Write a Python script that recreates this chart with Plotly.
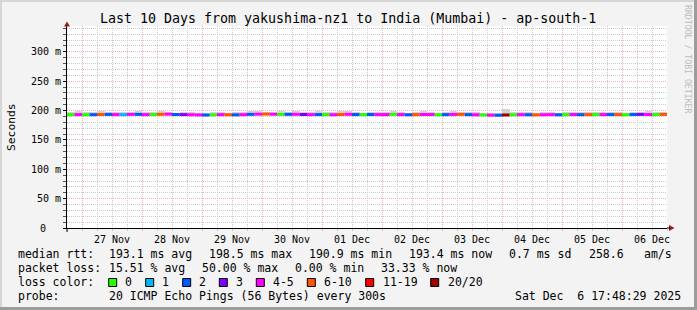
import plotly.graph_objects as go
import pandas as pd

# ---------------- data ----------------
TITLE = "Last 10 Days from yakushima-nz1 to India (Mumbai) - ap-south-1"
START = "2025-11-26 18:00"
END = "2025-12-06 18:00"
STEP_HOURS = 3

median_ms = [
    193.0, 193.1, 192.9, 193.0, 193.3, 193.4, 193.1, 193.0,
    193.4, 193.5, 193.1, 193.2, 193.6, 193.8, 193.3, 193.1,
    192.9, 192.6, 192.4, 192.7, 193.0, 192.9, 192.7, 193.0,
    193.5, 193.8, 194.0, 193.7, 193.4, 193.5, 193.6, 193.3,
    193.0, 193.2, 193.1, 192.9, 193.3, 193.6, 193.2, 193.0,
    193.3, 193.1, 193.2, 193.5, 193.1, 192.9, 193.1, 193.3,
    193.2, 192.9, 193.1, 193.4, 193.5, 193.1, 192.8, 192.5,
    192.2, 192.0, 192.5, 192.8, 193.0, 192.9, 192.7, 192.9,
    193.1, 192.9, 193.0, 193.2, 193.0, 193.1, 193.3, 193.1,
    193.2, 193.1, 192.9, 193.2, 193.4, 193.2, 193.1, 193.4,
]
loss_cat = [
    0, 4, 0, 2, 5, 2, 4, 1,
    4, 2, 4, 0, 5, 4, 2, 3,
    4, 4, 2, 0, 4, 5, 2, 4,
    2, 4, 5, 4, 0, 2, 4, 3,
    4, 2, 0, 4, 5, 4, 2, 0,
    2, 4, 4, 0, 4, 2, 5, 4,
    4, 0, 2, 4, 5, 2, 4, 0,
    4, 2, 7, 0, 4, 2, 5, 4,
    4, 2, 0, 4, 2, 5, 0, 4,
    2, 5, 0, 2, 3, 4, 0, 5,
]
smoke_hi = [
    197, 199, 198, 197, 200, 198, 197, 198,
    198, 199, 197, 198, 200, 198, 196, 197,
    197, 196, 196, 197, 198, 196, 197, 197,
    199, 200, 198, 198, 199, 198, 199, 197,
    197, 199, 197, 197, 199, 200, 197, 196,
    198, 197, 197, 199, 197, 196, 198, 199,
    198, 196, 198, 200, 198, 197, 197, 196,
    196, 195, 203, 197, 198, 197, 196, 197,
    197, 196, 197, 198, 197, 197, 198, 197,
    197, 198, 196, 198, 197, 199, 198, 198,
]
smoke_lo = [
    191.5, 191.8, 191.6, 191.7, 191.9, 192.0, 191.8, 191.6,
    192.0, 192.1, 191.8, 191.9, 192.2, 192.3, 191.9, 191.8,
    191.6, 191.3, 191.1, 191.4, 191.7, 191.6, 191.4, 191.7,
    192.1, 192.3, 192.5, 192.3, 192.0, 192.1, 192.2, 191.9,
    191.7, 191.9, 191.8, 191.6, 191.9, 192.2, 191.9, 191.7,
    191.9, 191.8, 191.9, 192.1, 191.8, 191.6, 191.8, 192.0,
    191.9, 191.6, 191.8, 192.0, 192.1, 191.8, 191.5, 191.2,
    190.9, 190.9, 191.2, 191.5, 191.7, 191.6, 191.4, 191.6,
    191.8, 191.6, 191.7, 191.9, 191.7, 191.8, 192.0, 191.8,
    191.9, 191.8, 191.6, 191.9, 192.1, 191.9, 191.8, 192.1,
]

loss_labels = ["0", "1", "2", "3", "4-5", "6-10", "11-19", "20/20"]
loss_colors = ["#26ff00", "#00b8ff", "#0059ff", "#7e00ff",
               "#ff00ff", "#ff5500", "#ff0000", "#a10000"]

y_tickvals = [0, 50, 100, 150, 200, 250, 300]
y_ticktext = ["", "50 m", "100 m", "150 m", "200 m", "250 m", "300 m"]
y_zero_label = "0"

legend_rows = [
    # (y pixel, [(x pixel, text), ...])
    (254, [(16, "median rtt:"), (107.3, "193.1 ms avg"), (207.3, "198.5 ms max"),
           (307.3, "190.9 ms min"), (407.3, "193.4 ms now"), (507.3, "0.7 ms sd"),
           (586.7, "258.6"), (642.3, "am/s")]),
    (268, [(16, "packet loss:"), (107.3, "15.51 % avg"), (200, "50.00 % max"),
           (293.3, "0.00 % min"), (379.3, "33.33 % now")]),
    (296, [(16, "probe:"), (107.3, "20 ICMP Echo Pings (56 Bytes) every 300s"),
           (513.3, "Sat Dec\u00a0\u00a06 17:48:29 2025")]),
]
loss_row_y = 282
loss_row_label = (16, "loss color:")
loss_box_x = [108.7, 145.7, 182.7, 219.3, 256.3, 307.3, 365.7, 430.7]
loss_text_x = [123.3, 160, 196.7, 234.3, 270.7, 321.7, 380.7, 445.7]

# ---------------- geometry ----------------
W, H = 697, 310
L, R, T, B = 67, 667, 26, 228
Y_MAX = 344
FONT = "DejaVu Sans Mono"


def px(xp):
    return (xp - L) / (R - L)


def py(yp):
    return (B - yp) / (B - T)


t0 = pd.Timestamp(START)
step = pd.Timedelta(hours=STEP_HOURS)
times = [t0 + i * step for i in range(len(median_ms) + 1)]

fig = go.Figure()

# smoke
centers = [times[i] + step / 2 for i in range(len(median_ms))]
fig.add_trace(go.Bar(
    x=centers, y=[h - l for h, l in zip(smoke_hi, smoke_lo)], base=smoke_lo,
    width=step.total_seconds() * 1000, marker=dict(color="#d2d2d2", line=dict(width=0)),
    hoverinfo="skip", showlegend=False,
))

# median line coloured by loss
for c, col in enumerate(loss_colors):
    xs, ys = [], []
    for i, (v, lc) in enumerate(zip(median_ms, loss_cat)):
        if lc == c:
            xs += [times[i], times[i + 1], None]
            ys += [v, v, None]
    if xs:
        fig.add_trace(go.Scatter(x=xs, y=ys, mode="lines",
                                 line=dict(color=col, width=3),
                                 hoverinfo="skip", showlegend=False))

annotations = []
shapes = []

# title
annotations.append(dict(text=TITLE, x=px(348), y=py(19), xref="paper", yref="paper",
                        showarrow=False, xanchor="center", yanchor="middle",
                        font=dict(family=FONT, size=13.3, color="#000")))
# y-axis title
annotations.append(dict(text="Seconds", x=px(11), y=py(127), xref="paper", yref="paper",
                        showarrow=False, textangle=-90, xanchor="center", yanchor="middle",
                        font=dict(family=FONT, size=11.3, color="#000")))
# zero tick label (rrdtool pads it with blank unit space)
annotations.append(dict(text=y_zero_label, x=px(47.5), y=0, xref="paper", yref="paper",
                        showarrow=False, xanchor="right", yanchor="middle",
                        font=dict(family=FONT, size=10, color="#000")))
# watermark
annotations.append(dict(text="RRDTOOL / TOBI OETIKER", x=px(688), y=py(59), xref="paper",
                        yref="paper", showarrow=False, textangle=90, xanchor="center",
                        yanchor="middle", font=dict(family=FONT, size=8.2, color="#bcbcbc")))

# legend rows
for yp, items in legend_rows:
    for xp, txt in items:
        annotations.append(dict(text=txt.replace(" ", "\u00a0"), x=px(xp), y=py(yp),
                                xref="paper", yref="paper", showarrow=False,
                                xanchor="left", yanchor="middle",
                                font=dict(family=FONT, size=11.5, color="#000")))
annotations.append(dict(text=loss_row_label[1].replace(" ", "\u00a0"), x=px(loss_row_label[0]),
                        y=py(loss_row_y), xref="paper", yref="paper", showarrow=False,
                        xanchor="left", yanchor="middle",
                        font=dict(family=FONT, size=11.5, color="#000")))
for bx, tx, lab, col in zip(loss_box_x, loss_text_x, loss_labels, loss_colors):
    shapes.append(dict(type="rect", xref="paper", yref="paper",
                       x0=px(bx), x1=px(bx + 8), y0=py(loss_row_y + 4.5), y1=py(loss_row_y - 3.5),
                       fillcolor=col, line=dict(color="#000", width=1)))
    annotations.append(dict(text=lab, x=px(tx), y=py(loss_row_y), xref="paper", yref="paper",
                            showarrow=False, xanchor="left", yanchor="middle",
                            font=dict(family=FONT, size=11.5, color="#000")))

# arrows
ARROW = "#9b1c1c"
shapes.append(dict(type="path", xref="paper", yref="paper",
                   path=f"M {px(67)} {py(21.5)} L {px(64)} {py(26.5)} L {px(70)} {py(26.5)} Z",
                   fillcolor=ARROW, line=dict(color=ARROW, width=0)))
shapes.append(dict(type="path", xref="paper", yref="paper",
                   path=f"M {px(674.5)} {py(228)} L {px(669)} {py(225)} L {px(669)} {py(231)} Z",
                   fillcolor=ARROW, line=dict(color=ARROW, width=0)))
# axis extensions
shapes.append(dict(type="line", xref="paper", yref="paper", x0=px(667), x1=px(670),
                   y0=py(228), y1=py(228), line=dict(color="#000", width=1)))
shapes.append(dict(type="line", xref="paper", yref="paper", x0=px(67), x1=px(67),
                   y0=py(232), y1=py(228), line=dict(color="#000", width=1)))

# frame (3D border)
shapes.append(dict(type="line", xref="paper", yref="paper", x0=px(0), x1=px(697),
                   y0=py(1), y1=py(1), line=dict(color="#d6d6d6", width=2)))
shapes.append(dict(type="line", xref="paper", yref="paper", x0=px(1), x1=px(1),
                   y0=py(0), y1=py(310), line=dict(color="#d6d6d6", width=2)))
shapes.append(dict(type="line", xref="paper", yref="paper", x0=px(695.5), x1=px(695.5),
                   y0=py(0), y1=py(310), line=dict(color="#9c9c9c", width=3)))
shapes.append(dict(type="line", xref="paper", yref="paper", x0=px(0), x1=px(697),
                   y0=py(308.5), y1=py(308.5), line=dict(color="#9c9c9c", width=3)))

MINOR_GRID = "#cbcbcb"
MAJOR_GRID = "#eeb4b4"

fig.update_layout(
    width=W, height=H, autosize=False,
    margin=dict(l=L, r=W - R, t=T, b=H - B, pad=0),
    paper_bgcolor="#f3f3f3", plot_bgcolor="#ffffff",
    font=dict(family=FONT, size=10, color="#000"),
    bargap=0, showlegend=False,
    annotations=annotations, shapes=shapes,
    xaxis=dict(
        type="date", range=[START, END], tick0="2025-11-27", dtick=86400000,
        ticklabelmode="period", tickformat="%d %b",
        showgrid=True, gridcolor=MAJOR_GRID, griddash="1px,1px", gridwidth=1,
        ticks="outside", ticklen=2, tickcolor=MAJOR_GRID,
        minor=dict(dtick=21600000, showgrid=True, gridcolor=MINOR_GRID,
                   griddash="1px,1px", ticks="outside", ticklen=2, tickcolor=MINOR_GRID),
        showline=True, linecolor="#000", linewidth=1, zeroline=False,
        tickfont=dict(family=FONT, size=10, color="#000"), fixedrange=True,
    ),
    yaxis=dict(
        range=[0, Y_MAX], tickvals=y_tickvals, ticktext=y_ticktext,
        showgrid=True, gridcolor=MAJOR_GRID, griddash="1px,1px", gridwidth=1,
        ticks="outside", ticklen=3, tickcolor="#000",
        minor=dict(dtick=10, showgrid=True, gridcolor=MINOR_GRID, griddash="1px,1px",
                   ticks="outside", ticklen=3, tickcolor="#555"),
        showline=True, linecolor="#000", linewidth=1, zeroline=False,
        tickfont=dict(family=FONT, size=10, color="#000"), fixedrange=True,
    ),
)

fig.write_html("out.html", config={"displayModeBar": False})
